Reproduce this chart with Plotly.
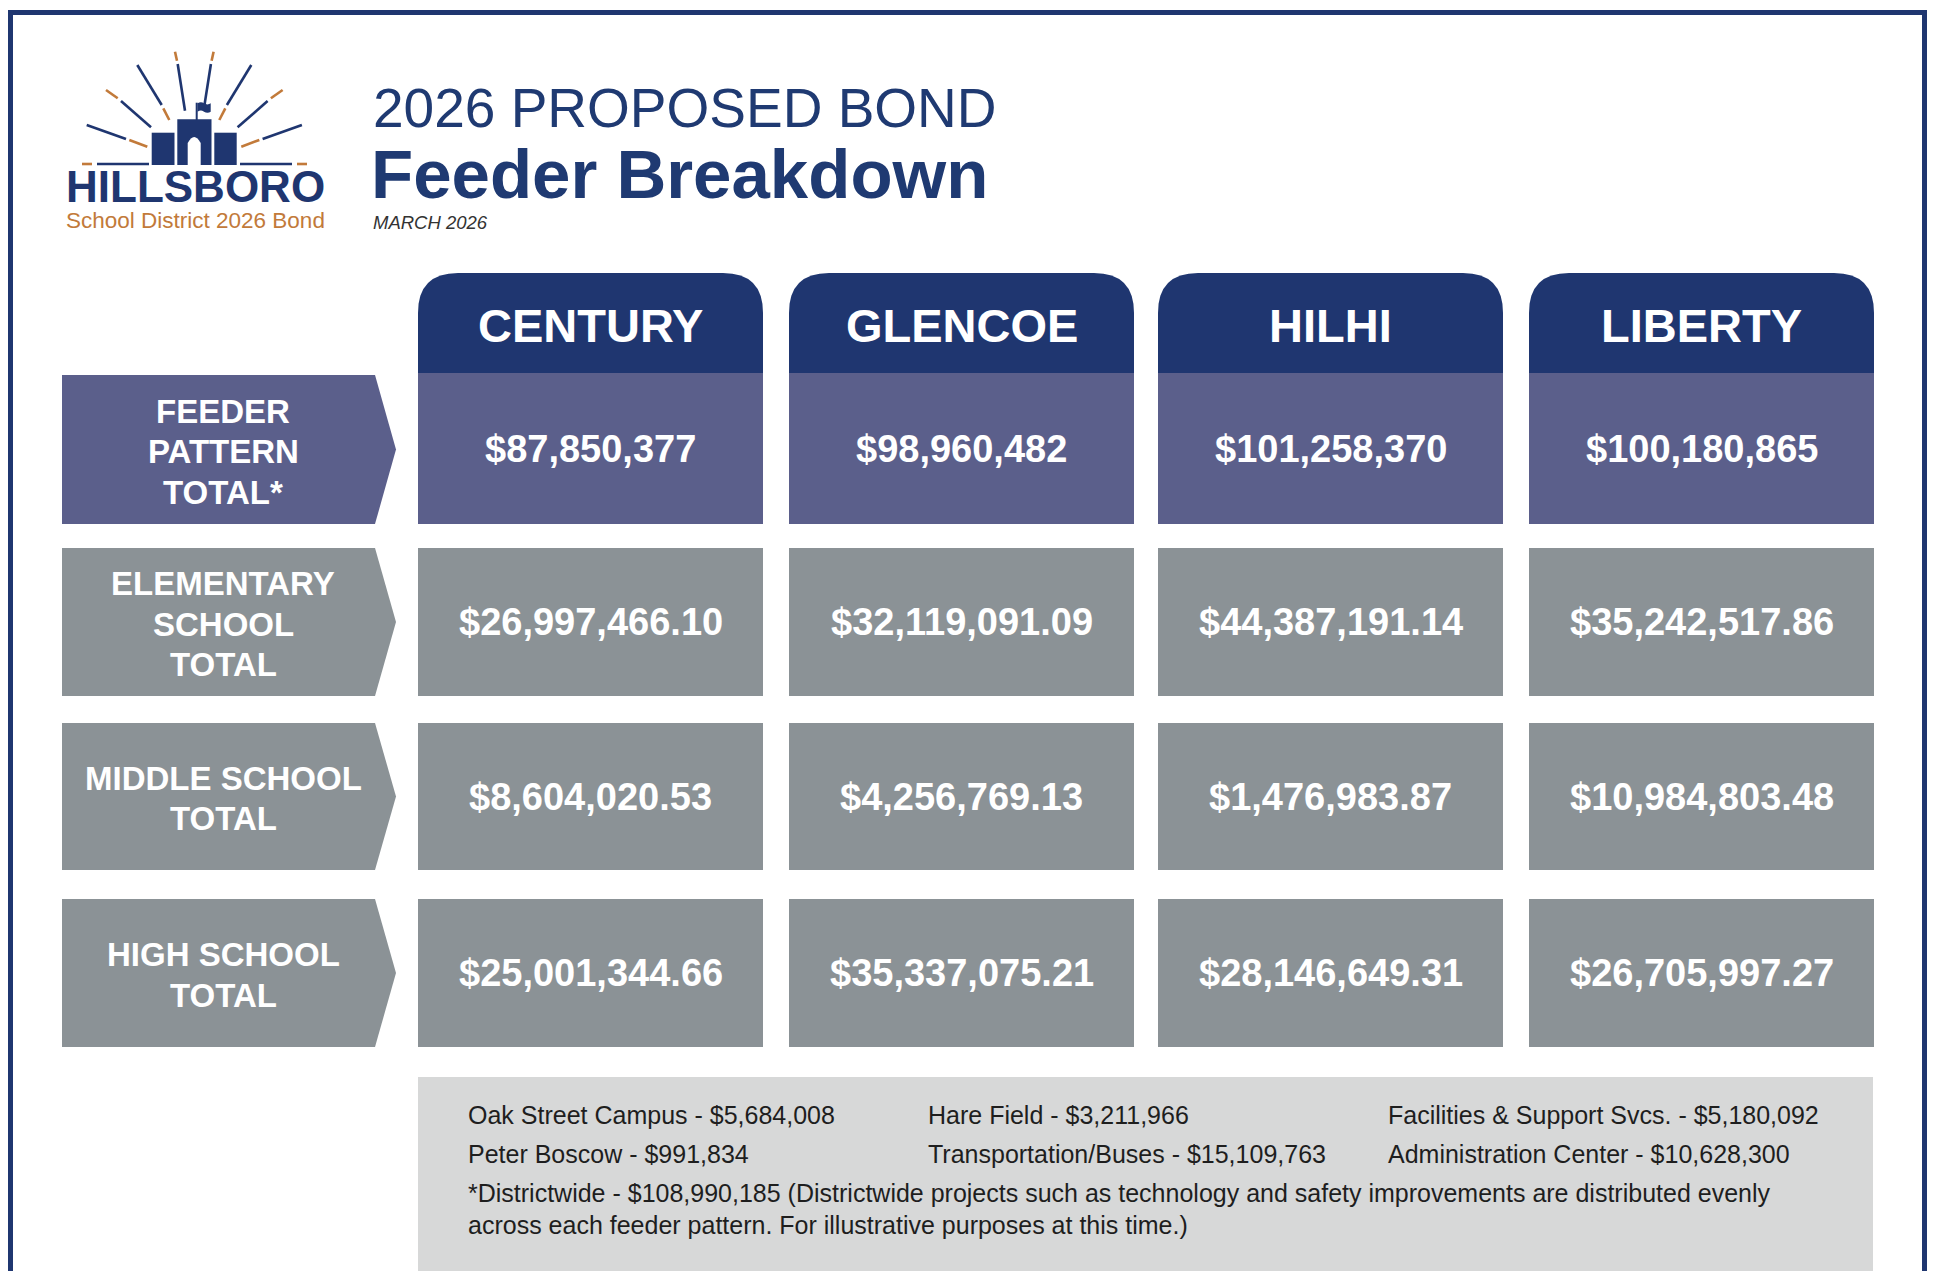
import plotly.graph_objects as go

# ---------------- data ----------------
feeders = ["CENTURY", "GLENCOE", "HILHI", "LIBERTY"]
row_labels = [
    ["FEEDER", "PATTERN", "TOTAL*"],
    ["ELEMENTARY", "SCHOOL", "TOTAL"],
    ["MIDDLE SCHOOL", "TOTAL"],
    ["HIGH SCHOOL", "TOTAL"],
]
feeder_pattern_total = [87850377, 98960482, 101258370, 100180865]
elementary_total = [26997466.10, 32119091.09, 44387191.14, 35242517.86]
middle_total = [8604020.53, 4256769.13, 1476983.87, 10984803.48]
high_total = [25001344.66, 35337075.21, 28146649.31, 26705997.27]

other_sites = ["Oak Street Campus", "Hare Field", "Facilities & Support Svcs.",
               "Peter Boscow", "Transportation/Buses", "Administration Center"]
other_amounts = [5684008, 3211966, 5180092, 991834, 15109763, 10628300]
districtwide_total = 108990185

title_line1 = "2026 PROPOSED BOND"
title_line2 = "Feeder Breakdown"
subtitle = "MARCH 2026"
logo_name = "HILLSBORO"
logo_sub = "School District 2026 Bond"

# ---------------- style ----------------
W, H = 1938, 1271
NAVY = "#1F3670"
TITLE_NAVY = "#1F3A72"
SLATE = "#5B5F8B"
GRAY = "#8B9296"
NOTE_BG = "#D7D8D8"
ORANGE = "#C27A3A"
FONT = "Liberation Sans, Arial, sans-serif"

col_x0 = [418, 789, 1158, 1529]
col_w = 345
tab_top, tab_bot = 273, 373
rows_y = [(373, 524), (548, 696), (723, 870), (899, 1047)]
row_colors = [SLATE, GRAY, GRAY, GRAY]
label_x0, label_x1, label_tip = 62, 375, 396
label_cx = 223

fig = go.Figure()
fig.add_trace(go.Scatter(x=[0, W], y=[0, H], mode="markers",
                         marker=dict(opacity=0), hoverinfo="skip", showlegend=False))

shapes = []
ann = []

def text(x, y, s, size, color, bold=False, italic=False, xanchor="center"):
    if bold:
        s = "<b>" + s + "</b>"
    if italic:
        s = "<i>" + s + "</i>"
    ann.append(dict(x=x, y=y, xref="x", yref="y", text=s, showarrow=False,
                    xanchor=xanchor, yanchor="middle", borderpad=0,
                    font=dict(family=FONT, size=size, color=color)))

# frame
shapes.append(dict(type="rect", xref="x", yref="y", x0=10.5, y0=12.5, x1=1924.5, y1=H + 40,
                   line=dict(color=NAVY, width=5), fillcolor="rgba(0,0,0,0)"))

# ---------------- logo ----------------
cx = 194.3
def mirror(seg):
    (x0, y0), (x1, y1) = seg
    return ((2 * cx - x0, y0), (2 * cx - x1, y1))

rays = [
    (((86.7, 125), (126, 139)), NAVY), (((129.3, 140), (147.3, 146.7)), ORANGE),
    (((106, 90), (117.7, 98.3)), ORANGE), (((121, 101), (151, 127.3)), NAVY),
    (((137.3, 65), (161.7, 105)), NAVY), (((163.3, 108.3), (169.3, 120)), ORANGE),
    (((175, 51.7), (177, 60.7)), ORANGE), (((177.7, 64), (185, 110.7)), NAVY),
]
for seg, c in rays:
    for s in (seg, mirror(seg)):
        shapes.append(dict(type="line", xref="x", yref="y", x0=s[0][0], y0=s[0][1],
                           x1=s[1][0], y1=s[1][1], line=dict(color=c, width=2.6)))
# horizon line
for (a, b), c in [((82, 92), ORANGE), ((97, 149), NAVY), ((240, 292), NAVY), ((297, 307), ORANGE)]:
    shapes.append(dict(type="line", xref="x", yref="y", x0=a, y0=164, x1=b, y1=164,
                       line=dict(color=c, width=2.6)))
# castle
for x0, y0, x1, y1 in [(151.7, 132.7, 174.5, 165), (177.3, 119.3, 211.5, 165), (214.3, 132.7, 236.7, 165),
                       (195.7, 102.7, 197.7, 120)]:
    shapes.append(dict(type="rect", xref="x", yref="y", x0=x0, y0=y0, x1=x1, y1=y1,
                       line=dict(width=0), fillcolor=NAVY))
shapes.append(dict(type="path", xref="x", yref="y",
                   path="M187.7,165.5 L187.7,143 Q194.2,131 200.7,143 L200.7,165.5 Z",
                   line=dict(width=0), fillcolor="white"))
shapes.append(dict(type="path", xref="x", yref="y",
                   path="M197.5,103.3 Q201,101 204,103.3 Q207.5,105.5 210.7,103.3 L210.7,111.7 Q207.5,114 204,111.7 Q201,109.5 197.5,111.7 Z",
                   line=dict(width=0), fillcolor=NAVY))

text(195, 186.5, logo_name, 44, NAVY, bold=True)
text(195, 220, logo_sub, 22.5, ORANGE)

# ---------------- titles ----------------
text(372, 107.5, title_line1, 55, TITLE_NAVY, xanchor="left")
text(370, 174.5, title_line2, 69, TITLE_NAVY, bold=True, xanchor="left")
text(372, 222, subtitle, 18.5, "#333333", italic=True, xanchor="left")

# ---------------- header tabs ----------------
r = 40
for i, name in enumerate(feeders):
    x0 = col_x0[i]
    x1 = x0 + col_w
    path = (f"M{x0},{tab_bot} L{x0},{tab_top + r} Q{x0},{tab_top} {x0 + r},{tab_top} "
            f"L{x1 - r},{tab_top} Q{x1},{tab_top} {x1},{tab_top + r} L{x1},{tab_bot} Z")
    shapes.append(dict(type="path", xref="x", yref="y", path=path,
                       line=dict(width=0), fillcolor=NAVY))
    text(x0 + col_w / 2, (tab_top + tab_bot) / 2 + 2, name, 47, "white", bold=True)

# ---------------- rows ----------------
all_rows = [
    ["${:,.0f}".format(v) for v in feeder_pattern_total],
    ["${:,.2f}".format(v) for v in elementary_total],
    ["${:,.2f}".format(v) for v in middle_total],
    ["${:,.2f}".format(v) for v in high_total],
]
for ri, (y0, y1) in enumerate(rows_y):
    color = row_colors[ri]
    ly0 = y0 + 2 if ri == 0 else y0
    ymid = (ly0 + y1) / 2
    shapes.append(dict(type="path", xref="x", yref="y",
                       path=f"M{label_x0},{ly0} L{label_x1},{ly0} L{label_tip},{ymid} L{label_x1},{y1} L{label_x0},{y1} Z",
                       line=dict(width=0), fillcolor=color))
    lines = row_labels[ri]
    n = len(lines)
    for li, s in enumerate(lines):
        text(label_cx, ymid + 2 + (li - (n - 1) / 2) * 40.5, s, 33, "white", bold=True)
    for ci in range(len(feeders)):
        x0 = col_x0[ci]
        shapes.append(dict(type="rect", xref="x", yref="y", x0=x0, y0=y0, x1=x0 + col_w, y1=y1,
                           line=dict(width=0), fillcolor=color))
        text(x0 + col_w / 2, (y0 + y1) / 2, all_rows[ri][ci], 38, "white", bold=True)

# ---------------- footnote box ----------------
shapes.append(dict(type="rect", xref="x", yref="y", x0=418, y0=1077, x1=1873, y1=H + 20,
                   line=dict(width=0), fillcolor=NOTE_BG))
note_cols = [467, 927, 1387]
note_rows = [1115, 1154]
for k, (nm, amt) in enumerate(zip(other_sites, other_amounts)):
    text(note_cols[k % 3], note_rows[k // 3], f"{nm} - ${amt:,}", 25, "#1E1E1E", xanchor="left")
text(467, 1193, f"*Districtwide - ${districtwide_total:,} (Districtwide projects such as technology "
     "and safety improvements are distributed evenly", 25, "#1E1E1E", xanchor="left")
text(467, 1225, "across each feeder pattern. For illustrative purposes at this time.)", 25,
     "#1E1E1E", xanchor="left")

fig.update_layout(
    width=W, height=H, margin=dict(l=0, r=0, t=0, b=0),
    paper_bgcolor="white", plot_bgcolor="white",
    xaxis=dict(range=[0, W], visible=False, fixedrange=True),
    yaxis=dict(range=[H, 0], visible=False, fixedrange=True),
    shapes=shapes, annotations=ann, showlegend=False,
)

fig.write_html("out.html", config={"displayModeBar": False},
               post_script="document.body.style.margin='0';document.body.style.overflow='hidden';")
